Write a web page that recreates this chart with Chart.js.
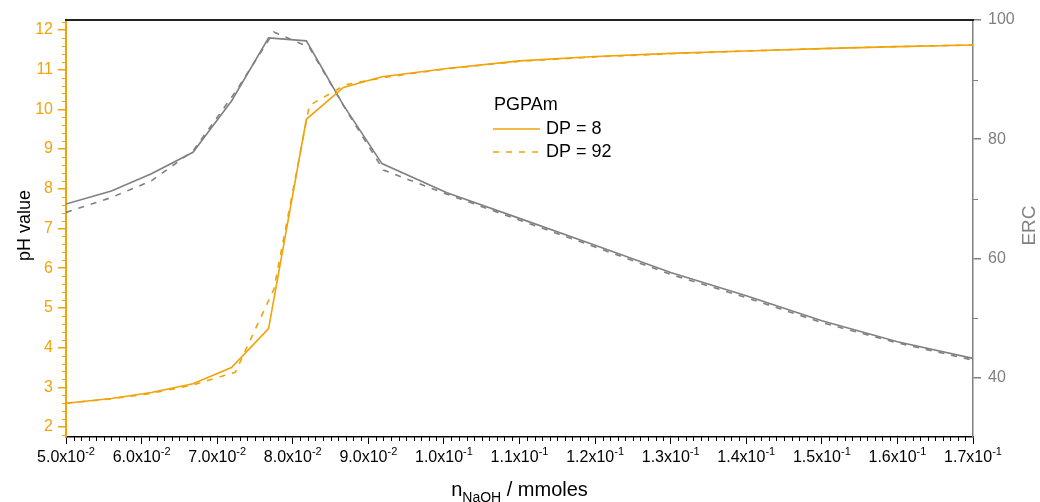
<!DOCTYPE html>
<html>
<head>
<meta charset="utf-8">
<script src="https://cdn.jsdelivr.net/npm/chart.js@4.4.1/dist/chart.umd.min.js"></script>
<style>
  html, body { margin: 0; padding: 0; background: #ffffff; }
  #wrap { width: 1040px; height: 502px; position: relative; }
</style>
</head>
<body>
<div id="wrap"><canvas id="c" width="1040" height="502"></canvas></div>
<script>
// Titration of PGPAm: added NaOH (mmoles) vs. pH and ERC, two chain lengths.
const nNaOH_dp8  = [0.0500, 0.0560, 0.0613, 0.0668, 0.0719, 0.0768, 0.0818, 0.0867, 0.0918, 0.1004,
                    0.110, 0.120, 0.130, 0.140, 0.150, 0.160, 0.170];
const pH_dp8     = [2.60, 2.72, 2.87, 3.09, 3.50, 4.48, 9.75, 10.55, 10.82, 11.03,
                    11.22, 11.33, 11.41, 11.47, 11.53, 11.58, 11.62];
const erc_dp8    = [69.1, 71.3, 74.2, 77.8, 86.4, 97.0, 96.5, 85.7, 75.9, 71.0,
                    66.7, 62.2, 57.6, 53.7, 49.5, 46.0, 43.2];

const nNaOH_dp92 = [0.0500, 0.0560, 0.0613, 0.0668, 0.0724, 0.0775, 0.0822, 0.0870, 0.0920, 0.1003,
                    0.110, 0.120, 0.130, 0.140, 0.150, 0.160, 0.170];
const pH_dp92    = [2.60, 2.71, 2.85, 3.06, 3.38, 5.47, 10.10, 10.62, 10.80, 11.02,
                    11.21, 11.32, 11.40, 11.47, 11.53, 11.58, 11.62];
const erc_dp92   = [67.7, 70.2, 73.0, 78.0, 87.9, 98.0, 95.4, 85.0, 74.8, 70.8,
                    66.4, 61.9, 57.3, 53.4, 49.2, 45.8, 42.9];

// Axis ticks
const xMajorTicks  = [0.05, 0.06, 0.07, 0.08, 0.09, 0.10, 0.11, 0.12, 0.13, 0.14, 0.15, 0.16, 0.17];
const phMajorTicks = [2, 3, 4, 5, 6, 7, 8, 9, 10, 11, 12];
const ercMajorTicks = [40, 60, 80, 100];
const ercMinorTicks = [50, 70, 90];

const legendTitle = 'PGPAm';
const seriesNames = ['DP = 8', 'DP = 92'];

const ORANGE = 'rgb(240,163,10)';
const GRAY = 'rgb(128,128,128)';
const FONT = '"Liberation Sans", Arial, sans-serif';

const pts = (xs, ys) => xs.map((x, i) => ({ x: x, y: ys[i] }));

// minor ticks, tick labels with exponents, axis titles, legend and top frame
const decorations = {
  id: 'decorations',
  afterDraw(chart) {
    const ctx = chart.ctx;
    const area = chart.chartArea;
    const sx = chart.scales.x, sy = chart.scales.y, sy2 = chart.scales.y2;
    ctx.save();

    // top frame line
    ctx.strokeStyle = '#222';
    ctx.lineWidth = 2;
    ctx.beginPath();
    ctx.moveTo(area.left - 1, area.top);
    ctx.lineTo(area.right + 1, area.top);
    ctx.stroke();

    // x minor ticks (every 0.001)
    ctx.strokeStyle = '#000';
    ctx.lineWidth = 1;
    for (let k = 50; k <= 170; k++) {
      if (k % 10 === 0) continue;
      const px = Math.round(sx.getPixelForValue(k / 1000)) + 0.5;
      ctx.beginPath();
      ctx.moveTo(px, area.bottom);
      ctx.lineTo(px, area.bottom + 4);
      ctx.stroke();
    }
    // pH minor ticks (every 0.2)
    ctx.strokeStyle = ORANGE;
    for (let k = 9; k <= 61; k++) {
      if (k % 5 === 0) continue;
      const py = Math.round(sy.getPixelForValue(k / 5)) + 0.5;
      ctx.beginPath();
      ctx.moveTo(area.left, py);
      ctx.lineTo(area.left - 4, py);
      ctx.stroke();
    }
    // ERC minor ticks
    ctx.strokeStyle = GRAY;
    ercMinorTicks.forEach(v => {
      const py = Math.round(sy2.getPixelForValue(v)) + 0.5;
      ctx.beginPath();
      ctx.moveTo(area.right, py);
      ctx.lineTo(area.right + 5, py);
      ctx.stroke();
    });

    // x tick labels: mantissa x 10^exponent
    ctx.fillStyle = '#000';
    ctx.textBaseline = 'alphabetic';
    ctx.textAlign = 'left';
    const mainFont = '16px ' + FONT, supFont = '11px ' + FONT;
    xMajorTicks.forEach(v => {
      const ex = Math.floor(Math.log10(v) + 1e-9);
      const mant = (v / Math.pow(10, ex)).toFixed(1) + 'x10';
      const sup = String(ex);
      ctx.font = mainFont; const w1 = ctx.measureText(mant).width;
      ctx.font = supFont;  const w2 = ctx.measureText(sup).width;
      const x0 = sx.getPixelForValue(v) - (w1 + w2) / 2;
      ctx.font = mainFont; ctx.fillText(mant, x0, 462);
      ctx.font = supFont;  ctx.fillText(sup, x0 + w1, 455);
    });

    // x axis title with subscript
    const t1 = 'n', t2 = 'NaOH', t3 = ' / mmoles';
    const tf = '20px ' + FONT, sf = '14px ' + FONT;
    ctx.font = tf; const a = ctx.measureText(t1).width, c = ctx.measureText(t3).width;
    ctx.font = sf; const b = ctx.measureText(t2).width;
    let tx = (area.left + area.right) / 2 - (a + b + c) / 2;
    ctx.font = tf; ctx.fillText(t1, tx, 496);
    ctx.font = sf; ctx.fillText(t2, tx + a, 502);
    ctx.font = tf; ctx.fillText(t3, tx + a + b, 496);

    // y axis titles
    const cy = (area.top + area.bottom) / 2 - 3;
    ctx.textAlign = 'center';
    ctx.textBaseline = 'middle';
    ctx.save();
    ctx.translate(25, cy);
    ctx.rotate(-Math.PI / 2);
    ctx.font = '18px ' + FONT;
    ctx.fillStyle = '#000';
    ctx.fillText('pH value', 0, 0);
    ctx.restore();
    ctx.save();
    ctx.translate(1030, cy);
    ctx.rotate(-Math.PI / 2);
    ctx.font = '19px ' + FONT;
    ctx.fillStyle = GRAY;
    ctx.fillText('ERC', 0, 0);
    ctx.restore();

    // legend
    ctx.textAlign = 'left';
    ctx.textBaseline = 'middle';
    ctx.font = '18px ' + FONT;
    ctx.fillStyle = '#000';
    ctx.fillText(legendTitle, 494, 105);
    const ds = chart.data.datasets;
    [ds[0], ds[1]].forEach((d, i) => {
      const ly = 129 + i * 23;
      ctx.strokeStyle = d.borderColor;
      ctx.lineWidth = d.borderWidth;
      ctx.setLineDash(d.borderDash || []);
      ctx.beginPath();
      ctx.moveTo(493, ly);
      ctx.lineTo(540, ly);
      ctx.stroke();
      ctx.setLineDash([]);
      ctx.fillText(seriesNames[i], 546, ly);
    });

    ctx.restore();
  }
};

new Chart(document.getElementById('c'), {
  type: 'line',
  data: {
    datasets: [
      { label: seriesNames[0], data: pts(nNaOH_dp8, pH_dp8), yAxisID: 'y',
        borderColor: ORANGE, borderWidth: 1.6, pointRadius: 0, tension: 0, order: 1 },
      { label: seriesNames[1], data: pts(nNaOH_dp92, pH_dp92), yAxisID: 'y',
        borderColor: ORANGE, borderWidth: 1.6, borderDash: [6, 7], pointRadius: 0, tension: 0, order: 1 },
      { label: 'ERC ' + seriesNames[0], data: pts(nNaOH_dp8, erc_dp8), yAxisID: 'y2',
        borderColor: GRAY, borderWidth: 1.6, pointRadius: 0, tension: 0, order: 2 },
      { label: 'ERC ' + seriesNames[1], data: pts(nNaOH_dp92, erc_dp92), yAxisID: 'y2',
        borderColor: GRAY, borderWidth: 1.6, borderDash: [6, 7], pointRadius: 0, tension: 0, order: 2 }
    ]
  },
  options: {
    responsive: false,
    animation: false,
    devicePixelRatio: 1,
    layout: { padding: { top: 20, left: 0, right: 0, bottom: 0 } },
    plugins: { legend: { display: false }, tooltip: { enabled: false } },
    elements: { line: { fill: false } },
    scales: {
      x: {
        type: 'linear', min: 0.05, max: 0.17,
        afterBuildTicks: s => { s.ticks = xMajorTicks.map(v => ({ value: v })); },
        afterFit: s => { s.height = 65; },
        ticks: { display: false },
        grid: { display: true, drawOnChartArea: false, drawTicks: true, tickLength: 7, color: '#000', lineWidth: 1 },
        border: { display: true, color: '#000', width: 1.5 }
      },
      y: {
        type: 'linear', position: 'left', min: 1.75, max: 12.25,
        afterBuildTicks: s => { s.ticks = phMajorTicks.map(v => ({ value: v })); },
        afterFit: s => { s.width = 66; },
        ticks: { color: ORANGE, padding: 5, font: { family: FONT, size: 16 } },
        grid: { display: true, drawOnChartArea: false, drawTicks: true, tickLength: 8, color: ORANGE, lineWidth: 1.5 },
        border: { display: true, color: ORANGE, width: 2 }
      },
      y2: {
        type: 'linear', position: 'right', min: 30, max: 100,
        afterBuildTicks: s => { s.ticks = ercMajorTicks.map(v => ({ value: v })); },
        afterFit: s => { s.width = 67; },
        ticks: { color: GRAY, padding: 7, font: { family: FONT, size: 16 } },
        grid: { display: true, drawOnChartArea: false, drawTicks: true, tickLength: 8, color: GRAY, lineWidth: 1.5 },
        border: { display: true, color: GRAY, width: 1.5 }
      }
    }
  },
  plugins: [decorations]
});
</script>
</body>
</html>
